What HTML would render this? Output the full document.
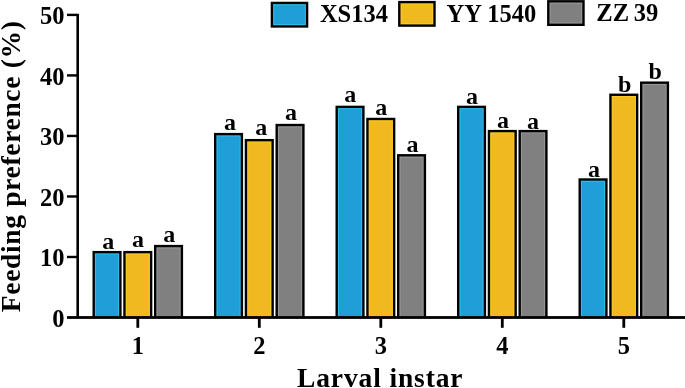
<!DOCTYPE html><html><head><meta charset="utf-8"><style>html,body{margin:0;padding:0;background:#fff;}svg{display:block;will-change:transform;}text{font-family:"Liberation Serif",serif;font-weight:bold;fill:#000;}</style></head><body>
<svg width="685" height="388" viewBox="0 0 685 388">
<rect x="92.50" y="250.93" width="29.10" height="66.57" fill="#000"/>
<rect x="94.90" y="253.33" width="24.30" height="64.17" fill="#2CC0E8"/>
<rect x="96.00" y="254.43" width="22.10" height="63.07" fill="#209ED8"/>
<text x="102.20" y="248.75" font-size="24">a</text>
<rect x="123.25" y="250.93" width="29.10" height="66.57" fill="#000"/>
<rect x="125.65" y="253.33" width="24.30" height="64.17" fill="#FCCB22"/>
<rect x="126.75" y="254.43" width="22.10" height="63.07" fill="#F0B920"/>
<text x="132.10" y="246.75" font-size="24">a</text>
<rect x="154.00" y="244.88" width="29.10" height="72.62" fill="#000"/>
<rect x="156.40" y="247.28" width="24.30" height="70.22" fill="#989898"/>
<rect x="157.50" y="248.38" width="22.10" height="69.12" fill="#808080"/>
<text x="163.30" y="241.85" font-size="24">a</text>
<rect x="214.00" y="132.91" width="29.10" height="184.59" fill="#000"/>
<rect x="216.40" y="135.31" width="24.30" height="182.19" fill="#2CC0E8"/>
<rect x="217.50" y="136.41" width="22.10" height="181.09" fill="#209ED8"/>
<text x="224.10" y="129.85" font-size="24">a</text>
<rect x="244.75" y="138.97" width="29.10" height="178.53" fill="#000"/>
<rect x="247.15" y="141.37" width="24.30" height="176.13" fill="#FCCB22"/>
<rect x="248.25" y="142.47" width="22.10" height="175.03" fill="#F0B920"/>
<text x="255.20" y="134.85" font-size="24">a</text>
<rect x="275.50" y="123.84" width="29.10" height="193.66" fill="#000"/>
<rect x="277.90" y="126.24" width="24.30" height="191.26" fill="#989898"/>
<rect x="279.00" y="127.34" width="22.10" height="190.16" fill="#808080"/>
<text x="285.10" y="120.25" font-size="24">a</text>
<rect x="335.50" y="105.68" width="29.10" height="211.82" fill="#000"/>
<rect x="337.90" y="108.08" width="24.30" height="209.42" fill="#2CC0E8"/>
<rect x="339.00" y="109.18" width="22.10" height="208.32" fill="#209ED8"/>
<text x="344.20" y="102.25" font-size="24">a</text>
<rect x="366.25" y="117.78" width="29.10" height="199.72" fill="#000"/>
<rect x="368.65" y="120.18" width="24.30" height="197.32" fill="#FCCB22"/>
<rect x="369.75" y="121.28" width="22.10" height="196.22" fill="#F0B920"/>
<text x="375.30" y="115.35" font-size="24">a</text>
<rect x="397.00" y="154.10" width="29.10" height="163.40" fill="#000"/>
<rect x="399.40" y="156.50" width="24.30" height="161.00" fill="#989898"/>
<rect x="400.50" y="157.60" width="22.10" height="159.90" fill="#808080"/>
<text x="406.60" y="151.75" font-size="24">a</text>
<rect x="457.00" y="105.68" width="29.10" height="211.82" fill="#000"/>
<rect x="459.40" y="108.08" width="24.30" height="209.42" fill="#2CC0E8"/>
<rect x="460.50" y="109.18" width="22.10" height="208.32" fill="#209ED8"/>
<text x="466.00" y="103.65" font-size="24">a</text>
<rect x="487.75" y="129.89" width="29.10" height="187.61" fill="#000"/>
<rect x="490.15" y="132.29" width="24.30" height="185.21" fill="#FCCB22"/>
<rect x="491.25" y="133.39" width="22.10" height="184.11" fill="#F0B920"/>
<text x="497.10" y="128.35" font-size="24">a</text>
<rect x="518.50" y="129.89" width="29.10" height="187.61" fill="#000"/>
<rect x="520.90" y="132.29" width="24.30" height="185.21" fill="#989898"/>
<rect x="522.00" y="133.39" width="22.10" height="184.11" fill="#808080"/>
<text x="527.00" y="128.65" font-size="24">a</text>
<rect x="578.50" y="178.30" width="29.10" height="139.20" fill="#000"/>
<rect x="580.90" y="180.70" width="24.30" height="136.80" fill="#2CC0E8"/>
<rect x="582.00" y="181.80" width="22.10" height="135.70" fill="#209ED8"/>
<text x="588.00" y="177.05" font-size="24">a</text>
<rect x="609.25" y="93.58" width="29.10" height="223.92" fill="#000"/>
<rect x="611.65" y="95.98" width="24.30" height="221.52" fill="#FCCB22"/>
<rect x="612.75" y="97.08" width="22.10" height="220.42" fill="#F0B920"/>
<text x="618.10" y="91.75" font-size="24">b</text>
<rect x="640.00" y="81.47" width="29.10" height="236.03" fill="#000"/>
<rect x="642.40" y="83.87" width="24.30" height="233.63" fill="#989898"/>
<rect x="643.50" y="84.97" width="22.10" height="232.53" fill="#808080"/>
<text x="648.40" y="78.95" font-size="24">b</text>
<rect x="76.4" y="13.80" width="2.6" height="303.70" fill="#000"/>
<rect x="67" y="316.10" width="618.00" height="2.8" fill="#000"/>
<text x="64.4" y="326.60" font-size="24.5" text-anchor="end">0</text>
<rect x="67" y="255.78" width="10" height="2.4" fill="#000"/>
<text x="64.4" y="266.08" font-size="24.5" text-anchor="end">10</text>
<rect x="67" y="195.26" width="10" height="2.4" fill="#000"/>
<text x="64.4" y="205.56" font-size="24.5" text-anchor="end">20</text>
<rect x="67" y="134.74" width="10" height="2.4" fill="#000"/>
<text x="64.4" y="145.04" font-size="24.5" text-anchor="end">30</text>
<rect x="67" y="74.22" width="10" height="2.4" fill="#000"/>
<text x="64.4" y="84.52" font-size="24.5" text-anchor="end">40</text>
<rect x="67" y="13.70" width="10" height="2.4" fill="#000"/>
<text x="64.4" y="24.00" font-size="24.5" text-anchor="end">50</text>
<rect x="136.40" y="317.50" width="2.8" height="10.3" fill="#000"/>
<text x="137.80" y="353.9" font-size="24.5" text-anchor="middle">1</text>
<rect x="257.90" y="317.50" width="2.8" height="10.3" fill="#000"/>
<text x="259.30" y="353.9" font-size="24.5" text-anchor="middle">2</text>
<rect x="379.40" y="317.50" width="2.8" height="10.3" fill="#000"/>
<text x="380.80" y="353.9" font-size="24.5" text-anchor="middle">3</text>
<rect x="500.90" y="317.50" width="2.8" height="10.3" fill="#000"/>
<text x="502.30" y="353.9" font-size="24.5" text-anchor="middle">4</text>
<rect x="622.40" y="317.50" width="2.8" height="10.3" fill="#000"/>
<text x="623.80" y="353.9" font-size="24.5" text-anchor="middle">5</text>
<rect x="270.7" y="1.75" width="37.6" height="25.9" fill="#000"/>
<rect x="273.09999999999997" y="4.15" width="32.800000000000004" height="21.099999999999998" fill="#2CC0E8"/>
<rect x="274.20" y="5.25" width="30.60" height="18.90" fill="#209ED8"/>
<text x="319.9" y="22.0" font-size="24.5">XS134</text>
<rect x="398.1" y="0.9" width="37.6" height="25.9" fill="#000"/>
<rect x="400.5" y="3.3" width="32.800000000000004" height="21.099999999999998" fill="#FCCB22"/>
<rect x="401.60" y="4.40" width="30.60" height="18.90" fill="#F0B920"/>
<text x="446.6" y="22.2" font-size="24.5">YY 1540</text>
<rect x="547.1" y="0.1" width="37.6" height="25.9" fill="#000"/>
<rect x="549.5" y="2.5" width="32.800000000000004" height="21.099999999999998" fill="#989898"/>
<rect x="550.60" y="3.60" width="30.60" height="18.90" fill="#808080"/>
<text x="596.3" y="21.4" font-size="24.5" word-spacing="-1.3">ZZ 39</text>
<text x="297" y="386.9" font-size="27.5" letter-spacing="0.87">Larval instar</text>
<text transform="translate(19.6,312.2) rotate(-90)" x="0" y="0" font-size="27.5" letter-spacing="0.67">Feeding preference (%)</text>
</svg></body></html>
